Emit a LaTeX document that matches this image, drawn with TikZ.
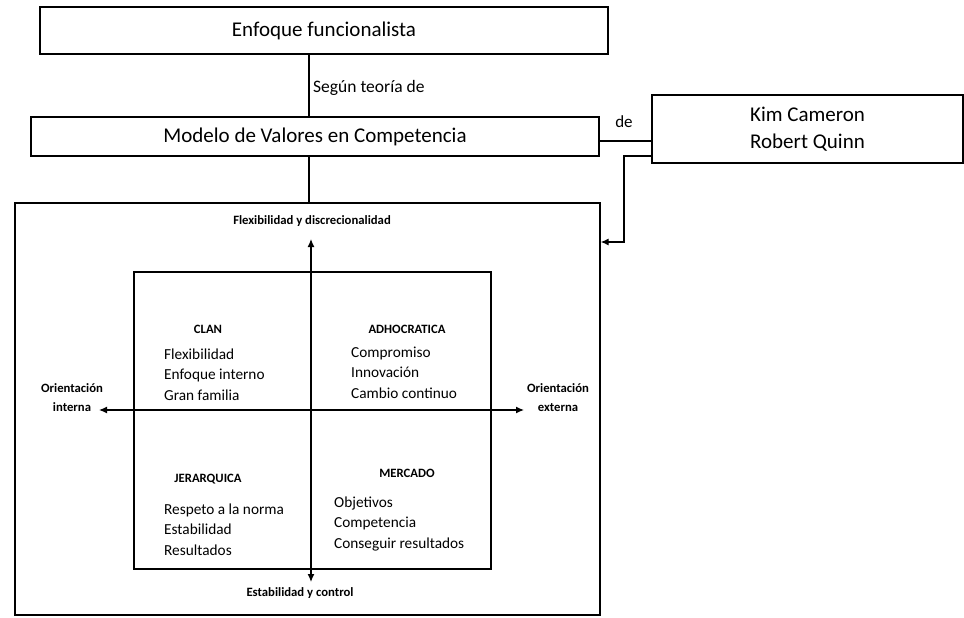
\documentclass[tikz,border=0pt]{standalone}
\usepackage{fontspec}
\setmainfont{Carlito}
\usetikzlibrary{arrows.meta}
\tikzset{
  boxnode/.style={draw, line width=1.3pt, inner sep=0pt},
  line/.style={line width=1.2pt},
  tip/.style={-{Latex[length=8pt,width=7pt]}},
  head/.style={font=\fontsize{12.7}{19}\selectfont\bfseries, align=center},
  item/.style={font=\fontsize{15.3}{20.5}\selectfont, align=left, anchor=base west, inner sep=0pt},
}
\begin{document}
\begin{tikzpicture}[x=1pt,y=-1pt]
\useasboundingbox (0,0) rectangle (964,618);
% top boxes
\node[boxnode, minimum width=568pt, minimum height=47pt, font=\fontsize{21}{24}\selectfont] (enf) at (324,30.5) {Enfoque funcionalista};
\node[boxnode, minimum width=568pt, minimum height=39pt, font=\fontsize{21}{24}\selectfont] (mod) at (315,136.5) {Modelo de Valores en Competencia};
\node[boxnode, minimum width=311pt, minimum height=68pt, font=\fontsize{21}{27}\selectfont, align=center] (kim) at (807.5,129) {Kim Cameron\\Robert Quinn};
% big frame and inner box
\node[boxnode, minimum width=585pt, minimum height=412pt] (big) at (307.5,409) {};
\node[boxnode, minimum width=357pt, minimum height=297pt] (inner) at (312.5,420.5) {};
% connectors
\coordinate (cx) at (309,0);
\draw[line] (enf.south -| cx) -- (mod.north -| cx);
\node[anchor=west, inner sep=0pt, font=\fontsize{17.5}{20}\selectfont] (seg) at (313,88) {Según teoría de};
\draw[line] (mod.south -| cx) -- (big.north -| cx);
\coordinate (c1) at (0,141);
\draw[line] (mod.east |- c1) -- (kim.west |- c1);
\node[inner sep=0pt, font=\fontsize{17}{20}\selectfont] (de) at (624,122) {de};
\coordinate (c2) at (0,156);
\coordinate (c3) at (624,242);
\draw[line, tip] (kim.west |- c2) -| (c3) -- (big.east |- c3);
% axes
\coordinate (vt) at (311,239);
\coordinate (vb) at (311,582);
\coordinate (hl) at (99,410);
\coordinate (hr) at (524,410);
\draw[line, {Latex[length=8pt,width=7pt]}-{Latex[length=8pt,width=7pt]}] (vb) -- (vt);
\draw[line, {Latex[length=8pt,width=7pt]}-{Latex[length=8pt,width=7pt]}] (hl) -- (hr);
% axis labels
\node[head] (flex) at (312,221) {Flexibilidad y discrecionalidad};
\node[head] (est) at (300,593) {Estabilidad y control};
\node[head] (oi) at (72,398) {Orientación\\interna};
\node[head] (oe) at (558,398) {Orientación\\externa};
% quadrants
\node[head] (clan) at (208,329) {CLAN};
\node[item] (clani) at (164,400) {Flexibilidad\\Enfoque interno\\Gran familia};
\node[head] (adho) at (407,329) {ADHOCRATICA};
\node[item] (adhoi) at (351,398) {Compromiso\\Innovación\\Cambio continuo};
\node[head] (jer) at (208,479) {JERARQUICA};
\node[item] (jeri) at (164,555) {Respeto a la norma\\Estabilidad\\Resultados};
\node[head] (mer) at (407,473) {MERCADO};
\node[item] (meri) at (334,548) {Objetivos\\Competencia\\Conseguir resultados};
\end{tikzpicture}
\end{document}
